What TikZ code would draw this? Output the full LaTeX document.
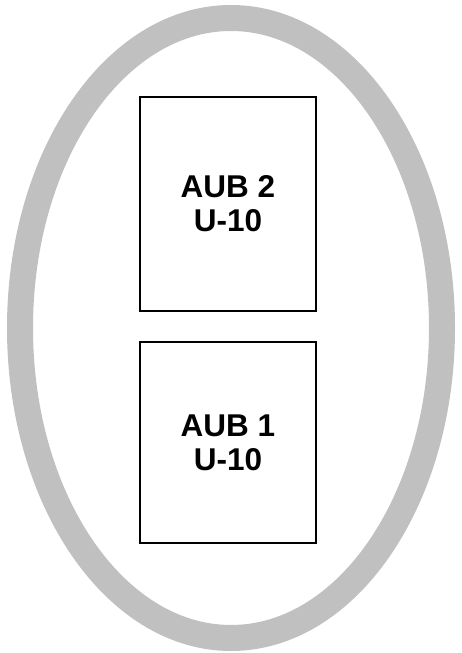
\documentclass[tikz,border=0pt]{standalone}
\usepackage{fontspec}
\setmainfont{Liberation Sans}
\definecolor{ringgray}{RGB}{192,192,192}
\tikzset{
  unitbox/.style={draw=black,line width=2pt,fill=white,minimum width=176pt,
    align=center,font=\bfseries\fontsize{31.5}{34}\selectfont}
}
\begin{document}
\begin{tikzpicture}[x=1pt,y=1pt]
\useasboundingbox (0,0) rectangle (462,653);

% --- Anello esterno ---
\draw[ringgray,line width=26pt] (231,325) ellipse (211 and 310);

% --- Unita' interne ---
\node[unitbox,minimum height=214pt] (aub2) at (228,449) {AUB 2\\U-10};
\node[unitbox,minimum height=201pt] (aub1) at (228,210.5) {AUB 1\\U-10};

\end{tikzpicture}
\end{document}
